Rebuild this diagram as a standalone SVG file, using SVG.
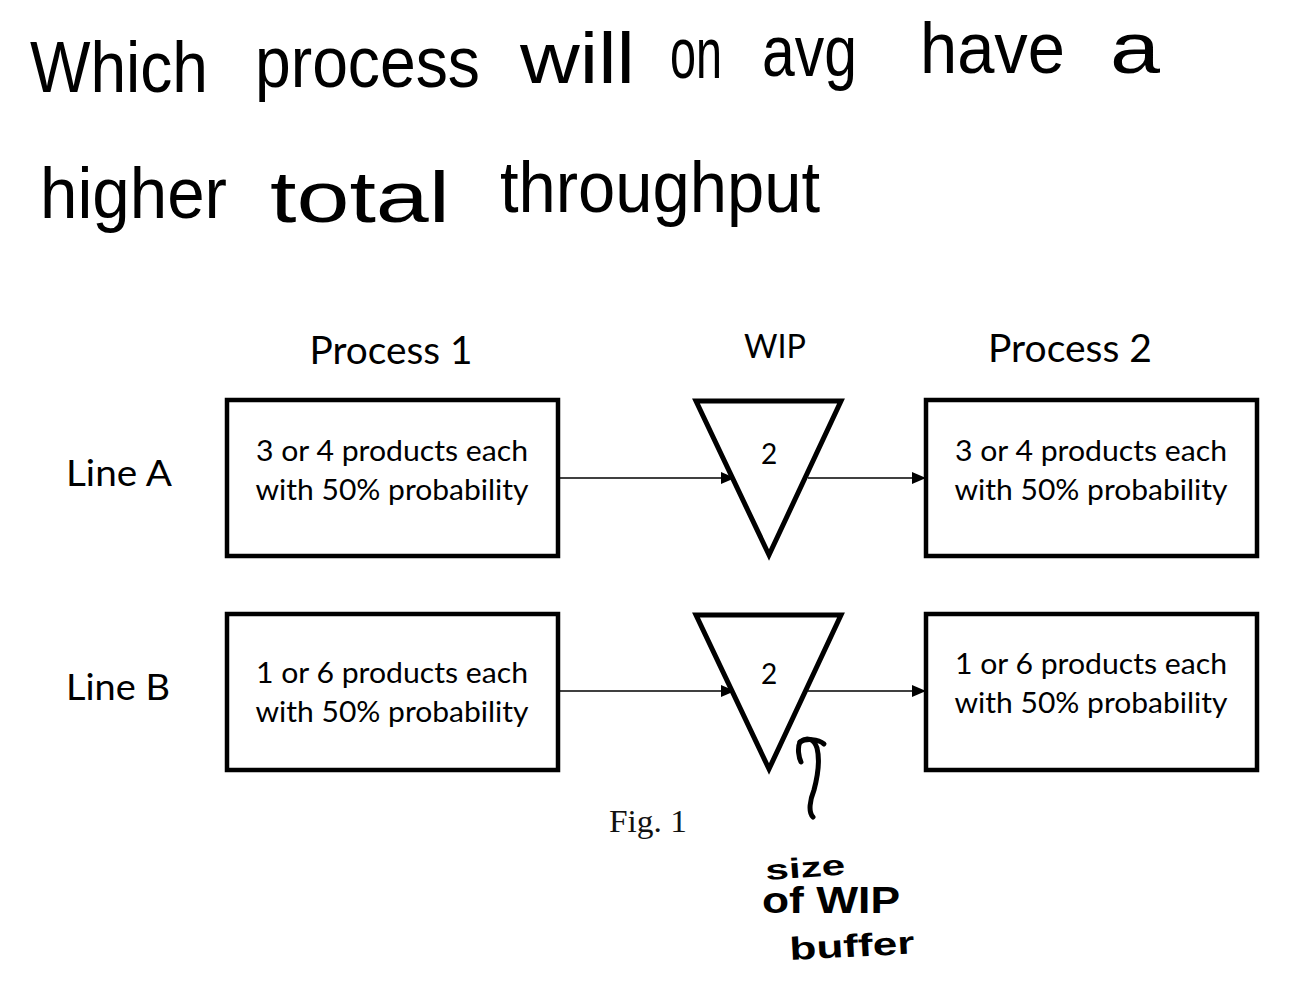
<svg xmlns="http://www.w3.org/2000/svg" width="1309" height="992" viewBox="0 0 1309 992">
<style>
.box{fill:#fff;stroke:#000;stroke-width:4.5}
.tri{fill:#fff;stroke:#000;stroke-width:5;stroke-linejoin:miter}
.lbl{font-family:Lato,"Open Sans","Liberation Sans",sans-serif;fill:#000;text-anchor:middle}
.body{font-size:28px}
.hand{font-family:"Liberation Sans",Arial,sans-serif;fill:#000;font-size:64px}
.hand2{font-family:"Liberation Sans",Arial,sans-serif;fill:#000;font-weight:bold}
.conn{stroke:#000;stroke-width:1.3;fill:none}
.ink{stroke:#000;stroke-width:5;fill:none;stroke-linecap:round;stroke-linejoin:round}
</style>
<defs>
<marker id="ah" markerWidth="14" markerHeight="12" refX="14" refY="6" orient="auto" markerUnits="userSpaceOnUse">
<path d="M0,0 L14,6 L0,12 Z" fill="#000"/>
</marker>
</defs>
<rect width="1309" height="992" fill="#fff"/>

<g id="question">
<text class="hand" transform="translate(30,92) scale(1,1.12)" x="0" y="0" textLength="178" lengthAdjust="spacingAndGlyphs">Which</text>
<text class="hand" transform="translate(255,87) scale(1,1.12)" x="0" y="0" textLength="225" lengthAdjust="spacingAndGlyphs">process</text>
<text class="hand" transform="translate(520,83) scale(1,1.12)" x="0" y="0" textLength="115" lengthAdjust="spacingAndGlyphs">will</text>
<text class="hand" transform="translate(670,78) scale(1,1.12)" x="0" y="0" textLength="52" lengthAdjust="spacingAndGlyphs">on</text>
<text class="hand" transform="translate(762,76) scale(1,1.12)" x="0" y="0" textLength="95" lengthAdjust="spacingAndGlyphs">avg</text>
<text class="hand" transform="translate(920,73) scale(1,1.12)" x="0" y="0" textLength="145" lengthAdjust="spacingAndGlyphs">have</text>
<text class="hand" transform="translate(1110,73) scale(1,1.12)" x="0" y="0" textLength="50" lengthAdjust="spacingAndGlyphs">a</text>
<text class="hand" transform="translate(40,218) scale(1,1.12)" x="0" y="0" textLength="187" lengthAdjust="spacingAndGlyphs">higher</text>
<text class="hand" transform="translate(270,222) scale(1,1.12)" x="0" y="0" textLength="180" lengthAdjust="spacingAndGlyphs">total</text>
<text class="hand" transform="translate(500,212) scale(1,1.12)" x="0" y="0" textLength="320" lengthAdjust="spacingAndGlyphs">throughput</text>
</g>

<g id="headers">
<text class="lbl" font-size="38" x="391" y="364" textLength="163" lengthAdjust="spacingAndGlyphs">Process 1</text>
<text class="lbl" font-size="33" x="775" y="358" textLength="62" lengthAdjust="spacingAndGlyphs">WIP</text>
<text class="lbl" font-size="38" x="1070" y="362" textLength="164" lengthAdjust="spacingAndGlyphs">Process 2</text>
<text class="lbl" font-size="36" x="119" y="486" textLength="106" lengthAdjust="spacingAndGlyphs">Line A</text>
<text class="lbl" font-size="36" x="118" y="700" textLength="104" lengthAdjust="spacingAndGlyphs">Line B</text>
</g>

<g id="connectors">
<line class="conn" x1="558" y1="478" x2="735" y2="478" marker-end="url(#ah)"/>
<line class="conn" x1="808" y1="478" x2="926" y2="478" marker-end="url(#ah)"/>
<line class="conn" x1="558" y1="691" x2="735" y2="691" marker-end="url(#ah)"/>
<line class="conn" x1="808" y1="691" x2="926" y2="691" marker-end="url(#ah)"/>
</g>

<g id="A1">
<rect class="box" x="227" y="400" width="331" height="156"/>
<text class="lbl body" x="392" y="461" textLength="272" lengthAdjust="spacingAndGlyphs">3 or 4 products each</text>
<text class="lbl body" x="392" y="500" textLength="273" lengthAdjust="spacingAndGlyphs">with 50% probability</text>
</g>
<g id="WIPA">
<polygon class="tri" points="696,401 841,401 769,555"/>
<text class="lbl" font-size="28" x="769" y="464">2</text>
</g>
<g id="A2">
<rect class="box" x="926" y="400" width="331" height="156"/>
<text class="lbl body" x="1091" y="461" textLength="272" lengthAdjust="spacingAndGlyphs">3 or 4 products each</text>
<text class="lbl body" x="1091" y="500" textLength="273" lengthAdjust="spacingAndGlyphs">with 50% probability</text>
</g>

<g id="B1">
<rect class="box" x="227" y="614" width="331" height="156"/>
<text class="lbl body" x="392" y="683" textLength="272" lengthAdjust="spacingAndGlyphs">1 or 6 products each</text>
<text class="lbl body" x="392" y="722" textLength="273" lengthAdjust="spacingAndGlyphs">with 50% probability</text>
</g>
<g id="WIPB">
<polygon class="tri" points="696,615 841,615 769,769"/>
<text class="lbl" font-size="28" x="769" y="684">2</text>
</g>
<g id="B2">
<rect class="box" x="926" y="614" width="331" height="156"/>
<text class="lbl body" x="1091" y="674" textLength="272" lengthAdjust="spacingAndGlyphs">1 or 6 products each</text>
<text class="lbl body" x="1091" y="713" textLength="273" lengthAdjust="spacingAndGlyphs">with 50% probability</text>
</g>

<g id="caption">
<text x="648" y="832" font-family="'Liberation Serif',serif" font-size="31" text-anchor="middle" fill="#111" textLength="78" lengthAdjust="spacingAndGlyphs">Fig. 1</text>
</g>

<g id="annotation">
<path class="ink" d="M813,817 C808,812 810,800 814,790 C818,775 820,760 817,748 C814,738 806,737 800,742 C797,748 799,758 801,762"/>
<path class="ink" d="M800,742 C806,738 818,739 824,744"/>
<text class="hand2" font-size="28" x="766" y="880" textLength="80" lengthAdjust="spacingAndGlyphs" transform="rotate(-4 766 880)">size</text>
<text class="hand2" font-size="36" x="762" y="913" textLength="138" lengthAdjust="spacingAndGlyphs">of WIP</text>
<text class="hand2" font-size="32" x="790" y="960" textLength="125" lengthAdjust="spacingAndGlyphs" transform="rotate(-3 790 960)">buffer</text>
</g>
</svg>
